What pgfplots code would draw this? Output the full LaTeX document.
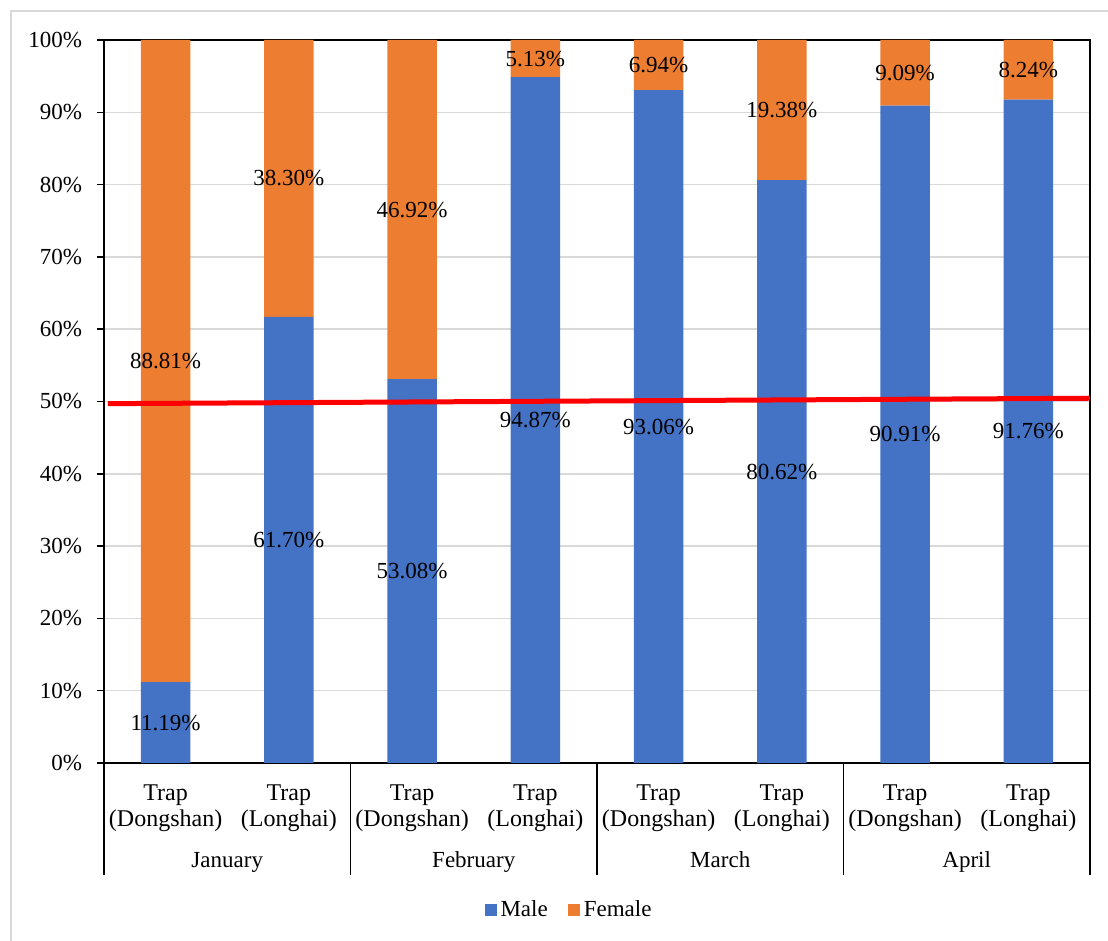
\documentclass[border=0pt]{standalone}
\usepackage{fontspec}
\setmainfont{Liberation Serif}
\usepackage{pgfplots}
\pgfplotsset{compat=1.18}
\definecolor{cblue}{HTML}{4472C4}
\definecolor{corange}{HTML}{ED7D31}
\definecolor{cgrid}{HTML}{D9D9D9}
\begin{document}
\begin{tikzpicture}[font=\fontsize{11.5}{13}\selectfont]
\useasboundingbox (0,0) rectangle (554pt,470.5pt);
\draw[cgrid, line width=0.75pt] (5.5pt,0) -- (5.5pt,465pt) -- (554pt,465pt);
\begin{axis}[at={(52pt,89pt)}, anchor=south west, scale only axis,
  width=493pt, height=361.5pt,
  ybar stacked, bar width=0.4,
  xmin=-0.5, xmax=7.5, ymin=0, ymax=100,
  xtick={0,...,7},
  xticklabels={{Trap\\(Dongshan)},{Trap\\(Longhai)},{Trap\\(Dongshan)},{Trap\\(Longhai)},{Trap\\(Dongshan)},{Trap\\(Longhai)},{Trap\\(Dongshan)},{Trap\\(Longhai)}},
  xticklabel style={align=center, font=\fontsize{12}{13}\selectfont, yshift=-4pt},
  x tick style={draw=none},
  ytick={0,10,...,100},
  yticklabel={\pgfmathprintnumber{\tick}\%},
  /pgf/number format/assume math mode=true,
  yticklabel style={font=\fontsize{11.5}{13}\selectfont, xshift=-4pt},
  ytick pos=left, tick align=outside, major tick length=3.5pt,
  y tick style={black, line width=0.75pt},
  ymajorgrids, grid style={cgrid, line width=0.75pt},
  axis line style={black, line width=0.8pt},
  clip=false,
  legend style={at={(0.4726,-0.2033)}, anchor=center, draw=none, fill=none,
    legend columns=2, font=\fontsize{11.5}{13}\selectfont,
    /tikz/every even column/.append style={column sep=8pt},
    inner sep=0pt},
  legend image code/.code={\fill[#1] (0pt,-3pt) rectangle (6pt,3pt);},
]
\addplot[fill=cblue, draw=none] coordinates {(0,11.19) (1,61.70) (2,53.08) (3,94.87) (4,93.06) (5,80.62) (6,90.91) (7,91.76)};
\addplot[fill=corange, draw=none] coordinates {(0,88.81) (1,38.30) (2,46.92) (3,5.13) (4,6.94) (5,19.38) (6,9.09) (7,8.24)};
\legend{Male, Female}
\draw[black, line width=0.75pt] (axis cs:-0.5,0) -- ++(0pt,-56pt);
\draw[black, line width=0.75pt] (axis cs:1.5,0) -- ++(0pt,-56pt);
\draw[black, line width=0.75pt] (axis cs:3.5,0) -- ++(0pt,-56pt);
\draw[black, line width=0.75pt] (axis cs:5.5,0) -- ++(0pt,-56pt);
\draw[black, line width=0.75pt] (axis cs:7.5,0) -- ++(0pt,-56pt);
\node[anchor=base] at ([yshift=-52.5pt]axis cs:0.5,0) {January};
\node[anchor=base] at ([yshift=-52.5pt]axis cs:2.5,0) {February};
\node[anchor=base] at ([yshift=-52.5pt]axis cs:4.5,0) {March};
\node[anchor=base] at ([yshift=-52.5pt]axis cs:6.5,0) {April};
\end{axis}
\begin{axis}[at={(52pt,89pt)}, anchor=south west, scale only axis,
  width=493pt, height=361.5pt,
  xmin=-0.5, xmax=7.5, ymin=0, ymax=100, hide axis, clip=false]
\addplot[color=red, line width=2.5pt] coordinates {(-0.468,49.7) (7.5,50.45)};
\addplot[only marks, mark=*, mark size=0pt, draw=none, fill=none,
  nodes near coords, point meta=explicit symbolic,
  every node near coord/.style={anchor=center, inner sep=0pt, font=\fontsize{11.5}{13}\selectfont, text=black}]
  coordinates {
  (0,5.595)[11.19\%] (1,30.85)[61.70\%] (2,26.54)[53.08\%] (3,47.435)[94.87\%]
  (4,46.53)[93.06\%] (5,40.31)[80.62\%] (6,45.455)[90.91\%] (7,45.88)[91.76\%]
  (0,55.595)[88.81\%] (1,80.85)[38.30\%] (2,76.54)[46.92\%] (3,97.435)[5.13\%]
  (4,96.53)[6.94\%] (5,90.31)[19.38\%] (6,95.455)[9.09\%] (7,95.88)[8.24\%]
  };
\end{axis}
\end{tikzpicture}
\end{document}
